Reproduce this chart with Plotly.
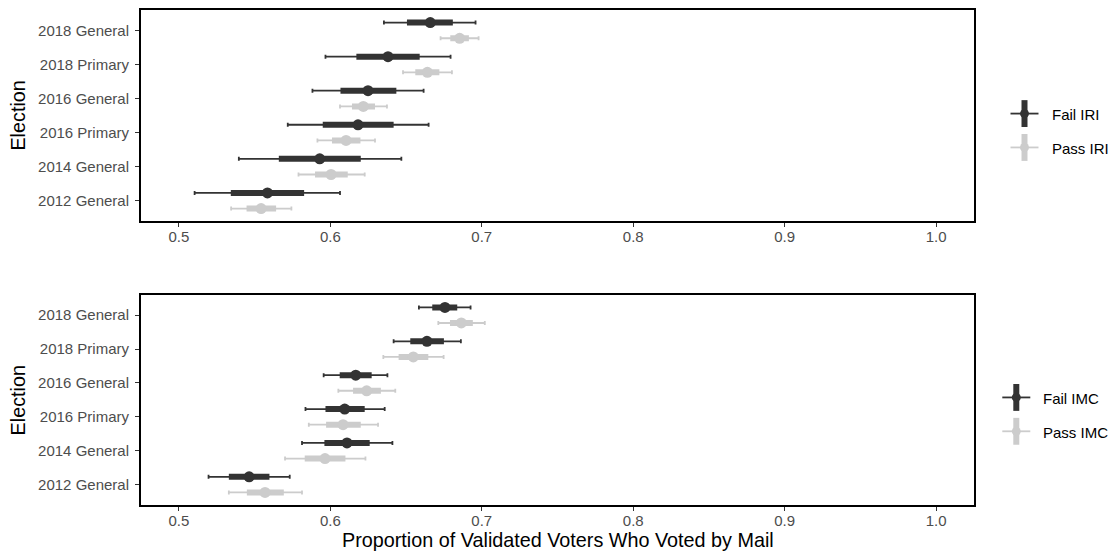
import plotly.graph_objects as go

# ---------------- data ----------------
elections = ["2012 General", "2014 General", "2016 Primary", "2016 General", "2018 Primary", "2018 General"]

# Top panel: IRI
fail_iri_est = [0.5585, 0.5930, 0.6183, 0.6249, 0.6381, 0.6660]
fail_iri_lo90 = [0.5343, 0.5660, 0.5950, 0.6067, 0.6172, 0.6506]
fail_iri_hi90 = [0.5827, 0.6201, 0.6418, 0.6436, 0.6590, 0.6809]
fail_iri_lo95 = [0.5104, 0.5396, 0.5719, 0.5882, 0.5968, 0.6354]
fail_iri_hi95 = [0.6064, 0.6469, 0.6649, 0.6616, 0.6794, 0.6959]

pass_iri_est = [0.5543, 0.6005, 0.6104, 0.6218, 0.6641, 0.6854]
pass_iri_lo90 = [0.5447, 0.5899, 0.6011, 0.6143, 0.6561, 0.6792]
pass_iri_hi90 = [0.5642, 0.6115, 0.6199, 0.6295, 0.6720, 0.6915]
pass_iri_lo95 = [0.5345, 0.5790, 0.5915, 0.6064, 0.6480, 0.6728]
pass_iri_hi95 = [0.5743, 0.6227, 0.6295, 0.6374, 0.6803, 0.6979]

# Bottom panel: IMC
fail_imc_est = [0.5464, 0.6110, 0.6095, 0.6168, 0.6638, 0.6757]
fail_imc_lo90 = [0.5330, 0.5961, 0.5968, 0.6062, 0.6528, 0.6673]
fail_imc_hi90 = [0.5598, 0.6260, 0.6227, 0.6273, 0.6750, 0.6838]
fail_imc_lo95 = [0.5196, 0.5813, 0.5836, 0.5956, 0.6418, 0.6585]
fail_imc_hi95 = [0.5732, 0.6410, 0.6359, 0.6377, 0.6862, 0.6926]

pass_imc_est = [0.5569, 0.5965, 0.6084, 0.6240, 0.6548, 0.6865]
pass_imc_lo90 = [0.5449, 0.5831, 0.5972, 0.6150, 0.6451, 0.6790]
pass_imc_hi90 = [0.5693, 0.6100, 0.6201, 0.6334, 0.6647, 0.6941]
pass_imc_lo95 = [0.5330, 0.5701, 0.5858, 0.6053, 0.6350, 0.6713]
pass_imc_hi95 = [0.5813, 0.6232, 0.6315, 0.6429, 0.6748, 0.7020]

x_ticks = [0.5, 0.6, 0.7, 0.8, 0.9, 1.0]
x_tick_labels = ["0.5", "0.6", "0.7", "0.8", "0.9", "1.0"]

# ---------------- styles ----------------
FAIL_COLOR = "#333333"
PASS_COLOR = "#cccccc"
FONT = "Liberation Sans, Arial, sans-serif"
TICK_SIZE = 15
TITLE_SIZE = 19.8
DODGE = 0.23

W, H = 1113, 555
ML, MR, MT, MB = 141, 139, 8, 50
PW = W - ML - MR
PH = H - MT - MB


def px2paper_x(px):
    return (px - ML) / PW


def px2paper_y(py):
    return (H - MB - py) / PH


fig = go.Figure()


def add_group(est, lo90, hi90, lo95, hi95, color, offset, xa, ya, name):
    ypos = [i + offset for i in range(len(est))]
    # thin 95% interval with caps
    fig.add_trace(go.Scatter(
        x=est, y=ypos, mode="markers", xaxis=xa, yaxis=ya, name=name,
        marker=dict(size=0, color=color), showlegend=False, hoverinfo="skip",
        error_x=dict(type="data", symmetric=False,
                     array=[h - e for h, e in zip(hi95, est)],
                     arrayminus=[e - l for e, l in zip(est, lo95)],
                     color=color, thickness=1.8, width=2),
    ))
    # thick 90% interval + point
    fig.add_trace(go.Scatter(
        x=est, y=ypos, mode="markers", xaxis=xa, yaxis=ya, name=name,
        marker=dict(size=11, color=color), showlegend=False,
        error_x=dict(type="data", symmetric=False,
                     array=[h - e for h, e in zip(hi90, est)],
                     arrayminus=[e - l for e, l in zip(est, lo90)],
                     color=color, thickness=6, width=0),
    ))


add_group(pass_iri_est, pass_iri_lo90, pass_iri_hi90, pass_iri_lo95, pass_iri_hi95, PASS_COLOR, -DODGE, "x", "y", "Pass IRI")
add_group(fail_iri_est, fail_iri_lo90, fail_iri_hi90, fail_iri_lo95, fail_iri_hi95, FAIL_COLOR, DODGE, "x", "y", "Fail IRI")
add_group(pass_imc_est, pass_imc_lo90, pass_imc_hi90, pass_imc_lo95, pass_imc_hi95, PASS_COLOR, -DODGE, "x2", "y2", "Pass IMC")
add_group(fail_imc_est, fail_imc_lo90, fail_imc_hi90, fail_imc_lo95, fail_imc_hi95, FAIL_COLOR, DODGE, "x2", "y2", "Fail IMC")

top_dom = [px2paper_y(220), 1.0]
bot_dom = [0.0, px2paper_y(294)]

xcommon = dict(range=[0.475, 1.025], tickvals=x_ticks, ticktext=x_tick_labels,
               showgrid=False, zeroline=False, showline=True, linecolor="black",
               linewidth=2, mirror=True, ticks="outside", ticklen=4, tickwidth=1.2,
               tickcolor="#333333", ticklabelstandoff=-3,
               tickfont=dict(family=FONT, size=TICK_SIZE, color="#4d4d4d"))
ycommon = dict(range=[-0.6, 5.6], tickvals=list(range(len(elections))), ticktext=elections,
               showgrid=False, zeroline=False, showline=True, linecolor="black",
               linewidth=2, mirror=True, ticks="outside", ticklen=4, tickwidth=1.2,
               tickcolor="#333333", ticklabelstandoff=3,
               tickfont=dict(family=FONT, size=TICK_SIZE, color="#4d4d4d"))

fig.update_layout(
    width=W, height=H,
    margin=dict(l=ML, r=MR, t=MT, b=MB),
    paper_bgcolor="white", plot_bgcolor="white",
    showlegend=False,
    xaxis=dict(**xcommon, anchor="y", domain=[0, 1]),
    yaxis=dict(**ycommon, anchor="x", domain=top_dom),
    xaxis2=dict(**xcommon, anchor="y2", domain=[0, 1]),
    yaxis2=dict(**ycommon, anchor="x2", domain=bot_dom),
)

annotations = []
# axis titles
annotations.append(dict(text="Election", xref="paper", yref="paper",
                        x=px2paper_x(18), y=px2paper_y(114), textangle=-90,
                        showarrow=False, font=dict(family=FONT, size=TITLE_SIZE, color="black"),
                        xanchor="center", yanchor="middle"))
annotations.append(dict(text="Election", xref="paper", yref="paper",
                        x=px2paper_x(18), y=px2paper_y(400), textangle=-90,
                        showarrow=False, font=dict(family=FONT, size=TITLE_SIZE, color="black"),
                        xanchor="center", yanchor="middle"))
annotations.append(dict(text="Proportion of Validated Voters Who Voted by Mail", xref="paper", yref="paper",
                        x=0.5, y=px2paper_y(540), showarrow=False,
                        font=dict(family=FONT, size=TITLE_SIZE, color="black"),
                        xanchor="center", yanchor="middle"))

shapes = []


def legend_item(cx, cy, color, label, tx):
    # horizontal thin line
    shapes.append(dict(type="line", xref="paper", yref="paper",
                       x0=px2paper_x(cx - 14), x1=px2paper_x(cx + 14),
                       y0=px2paper_y(cy), y1=px2paper_y(cy),
                       line=dict(color=color, width=1.8)))
    # vertical thick bar
    shapes.append(dict(type="line", xref="paper", yref="paper",
                       x0=px2paper_x(cx), x1=px2paper_x(cx),
                       y0=px2paper_y(cy - 13.5), y1=px2paper_y(cy + 13.5),
                       line=dict(color=color, width=6)))
    # dot
    shapes.append(dict(type="circle", xref="paper", yref="paper",
                       x0=px2paper_x(cx - 4.5), x1=px2paper_x(cx + 4.5),
                       y0=px2paper_y(cy - 4.5), y1=px2paper_y(cy + 4.5),
                       line=dict(width=0), fillcolor=color))
    annotations.append(dict(text=label, xref="paper", yref="paper",
                            x=px2paper_x(tx), y=px2paper_y(cy + 1), showarrow=False,
                            xanchor="left", yanchor="middle",
                            font=dict(family=FONT, size=TICK_SIZE, color="black")))


legend_item(1024.5, 112, FAIL_COLOR, "Fail IRI", 1050)
legend_item(1024.5, 146, PASS_COLOR, "Pass IRI", 1050)
legend_item(1016.3, 397, FAIL_COLOR, "Fail IMC", 1041)
legend_item(1016.3, 431, PASS_COLOR, "Pass IMC", 1041)

fig.update_layout(annotations=annotations, shapes=shapes)

fig.write_html("out.html")
